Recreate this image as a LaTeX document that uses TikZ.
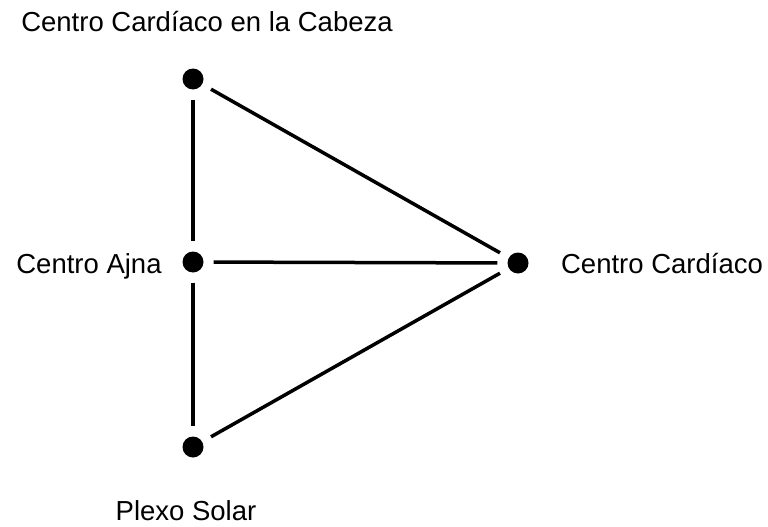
\documentclass[tikz,border=0pt]{standalone}
\usepackage{fontspec}
\setmainfont{Liberation Sans}
\begin{document}
\begin{tikzpicture}[x=1pt,y=-1pt,
  dot/.style={circle,fill=black,draw=none,minimum size=21pt,inner sep=0pt},
  edge/.style={line width=3.5pt,shorten <=10pt,shorten >=10pt},
  lab/.style={anchor=base,inner sep=0pt,font=\fontsize{27.5}{30}\selectfont}]
\useasboundingbox (0,0) rectangle (768,527);
\node[dot] (T) at (193,79) {};
\node[dot] (A) at (193,262) {};
\node[dot] (B) at (193,447) {};
\node[dot] (R) at (518,263) {};
\draw[edge] (T) -- (A);
\draw[edge] (A) -- (B);
\draw[edge] (T) -- (R);
\draw[edge] (A) -- (R);
\draw[edge] (B) -- (R);
\node[lab] (lt) at (207,32) {Centro Cardíaco en la Cabeza};
\node[lab] (la) at (89,273) {Centro Ajna};
\node[lab] (lr) at (662,273) {Centro Cardíaco};
\node[lab] (lb) at (186,520) {Plexo Solar};
\end{tikzpicture}
\end{document}
